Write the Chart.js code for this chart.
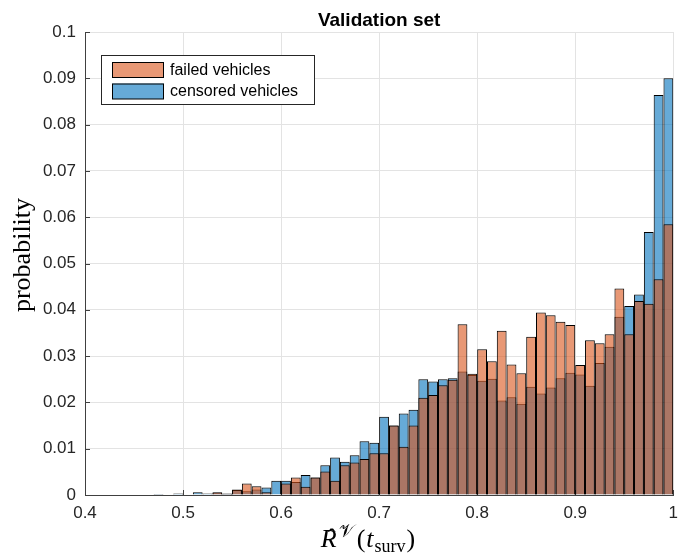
<!DOCTYPE html>
<html>
<head>
<meta charset="utf-8">
<title>Validation set</title>
<script src="https://cdn.jsdelivr.net/npm/chart.js@4.4.1/dist/chart.umd.min.js"></script>
<style>
  html, body { margin: 0; padding: 0; background: #fff; }
  #wrap { position: relative; width: 686px; height: 555px; }
</style>
</head>
<body>
<div id="wrap"><canvas id="hist" width="686" height="555"></canvas></div>
<script>
// lower edge of each histogram bin (width 0.01)
const binEdges = [
  0.40, 0.41, 0.42, 0.43, 0.44, 0.45, 0.46, 0.47, 0.48, 0.49,
  0.50, 0.51, 0.52, 0.53, 0.54, 0.55, 0.56, 0.57, 0.58, 0.59,
  0.60, 0.61, 0.62, 0.63, 0.64, 0.65, 0.66, 0.67, 0.68, 0.69,
  0.70, 0.71, 0.72, 0.73, 0.74, 0.75, 0.76, 0.77, 0.78, 0.79,
  0.80, 0.81, 0.82, 0.83, 0.84, 0.85, 0.86, 0.87, 0.88, 0.89,
  0.90, 0.91, 0.92, 0.93, 0.94, 0.95, 0.96, 0.97, 0.98, 0.99
];
const binWidth = 0.01;

const failedProb = [
  0, 0, 0, 0, 0, 0, 0, 0, 0, 0,
  0, 0, 0, 0.0006, 0.0002, 0.0012, 0.0025, 0.0019, 0.0006, 0,
  0.0025, 0.0038, 0.0018, 0.0038, 0.0051, 0.0031, 0.0064, 0.0070, 0.0078, 0.0090,
  0.0090, 0.0150, 0.0104, 0.0150, 0.0210, 0.0216, 0.0237, 0.0249, 0.0369, 0.0262,
  0.0315, 0.0289, 0.0355, 0.0282, 0.0263, 0.0342, 0.0394, 0.0388, 0.0374, 0.0367,
  0.0281, 0.0334, 0.0328, 0.0347, 0.0446, 0.0347, 0.0419, 0.0413, 0.0466, 0.0585
];

const censoredProb = [
  0, 0, 0, 0, 0, 0, 0, 0.0002, 0, 0.0003,
  0, 0.0006, 0.0003, 0.0005, 0.0003, 0.0011, 0.0008, 0.0012, 0.0016, 0.0031,
  0.0031, 0.0028, 0.0043, 0.0038, 0.0064, 0.0081, 0.0072, 0.0086, 0.0116, 0.0113,
  0.0169, 0.0150, 0.0176, 0.0184, 0.0250, 0.0245, 0.0250, 0.0252, 0.0267, 0.0259,
  0.0247, 0.0251, 0.0204, 0.0211, 0.0197, 0.0234, 0.0219, 0.0232, 0.0252, 0.0264,
  0.0260, 0.0236, 0.0285, 0.0320, 0.0385, 0.0408, 0.0433, 0.0568, 0.0864, 0.0900
];

const xTickLabels = ['0.4', '0.5', '0.6', '0.7', '0.8', '0.9', '1'];
const yTickLabels = ['0', '0.01', '0.02', '0.03', '0.04', '0.05', '0.06', '0.07', '0.08', '0.09', '0.1'];

const seriesNames = ['failed vehicles', 'censored vehicles'];

const AXIS_FONT = '"Liberation Sans", Arial, Helvetica, sans-serif';
const MATH_FONT = '"Liberation Serif", "DejaVu Serif", "Times New Roman", serif';

function toPoints(values) {
  return values.map((v, i) => ({ x: binEdges[i] + binWidth / 2, y: v }));
}

// legend box, title, axis labels and inward ticks
const decorations = {
  id: 'decorations',
  beforeDatasetsDraw(chart) {
    const { ctx, chartArea: a, scales: { x, y } } = chart;
    ctx.save();
    ctx.strokeStyle = '#404040';
    ctx.lineWidth = 1;
    ctx.beginPath();
    y.ticks.forEach(t => {
      const py = Math.round(y.getPixelForValue(t.value)) + 0.5;
      ctx.moveTo(a.left, py);
      ctx.lineTo(a.left + 5, py);
    });
    x.ticks.forEach(t => {
      const px = Math.round(x.getPixelForValue(t.value)) + 0.5;
      ctx.moveTo(px, a.bottom);
      ctx.lineTo(px, a.bottom - 5);
    });
    ctx.stroke();
    ctx.restore();
  },
  afterDraw(chart) {
    const { ctx, chartArea: a } = chart;
    ctx.save();

    // title
    ctx.fillStyle = '#000';
    ctx.font = 'bold 19px ' + AXIS_FONT;
    ctx.textAlign = 'center';
    ctx.textBaseline = 'alphabetic';
    ctx.fillText('Validation set', (a.left + a.right) / 2, 26);

    // legend
    const lx = 101.5, ly = 55.5, lw = 213, lh = 49;
    ctx.fillStyle = '#fff';
    ctx.fillRect(lx, ly, lw, lh);
    ctx.strokeStyle = '#262626';
    ctx.lineWidth = 1;
    ctx.strokeRect(lx, ly, lw, lh);
    ctx.font = '16px ' + AXIS_FONT;
    ctx.textAlign = 'left';
    ctx.textBaseline = 'middle';
    chart.data.datasets.forEach((ds, i) => {
      const sy = 62 + i * 21.5;
      ctx.fillStyle = '#fff';
      ctx.fillRect(112, sy, 52, 15.5);
      ctx.fillStyle = ds.backgroundColor;
      ctx.fillRect(112, sy, 52, 15.5);
      ctx.strokeStyle = '#000';
      ctx.strokeRect(112.5, sy + 0.5, 51, 15);
      ctx.fillStyle = '#000';
      ctx.fillText(ds.label, 170, sy + 8.5);
    });

    // y label
    ctx.save();
    ctx.translate(30, 255);
    ctx.rotate(-Math.PI / 2);
    ctx.font = '26px ' + MATH_FONT;
    ctx.textAlign = 'center';
    ctx.textBaseline = 'alphabetic';
    ctx.fillText('probability', 0, 0);
    ctx.restore();

    // x label: R-hat with calligraphic V superscript, of t_surv
    const base = 547;
    const parts = [
      { t: 'R', f: 'italic 26px ' + MATH_FONT, dy: 0 },
      { t: '\u{1D4B1}', f: '18px "DejaVu Sans", "DejaVu Serif", ' + MATH_FONT, dy: -10, gap: 2 },
      { t: '(', f: '26px ' + MATH_FONT, dy: 0, gap: 3 },
      { t: 't', f: 'italic 26px ' + MATH_FONT, dy: 0, gap: 1 },
      { t: 'surv', f: '18px ' + MATH_FONT, dy: 5, gap: 1 },
      { t: ')', f: '26px ' + MATH_FONT, dy: 0, gap: 1 }
    ];
    let total = 0;
    parts.forEach(p => {
      ctx.font = p.f;
      p.w = ctx.measureText(p.t).width;
      total += p.w + (p.gap || 0);
    });
    let cx = 368 - total / 2;
    ctx.textAlign = 'left';
    ctx.textBaseline = 'alphabetic';
    ctx.fillStyle = '#000';
    parts.forEach((p, i) => {
      cx += p.gap || 0;
      ctx.font = p.f;
      ctx.fillText(p.t, cx, base + p.dy);
      if (i === 0) {
        ctx.font = '24px ' + MATH_FONT;
        ctx.textAlign = 'center';
        ctx.fillText('\u02C6', cx + p.w / 2 + 3, base - 2);
        ctx.textAlign = 'left';
      }
      cx += p.w;
    });

    ctx.restore();
  }
};

new Chart(document.getElementById('hist'), {
  type: 'bar',
  data: {
    datasets: [
      {
        label: seriesNames[0],
        data: toPoints(failedProb),
        backgroundColor: 'rgba(217, 83, 25, 0.6)',
        borderColor: '#000',
        borderWidth: 1
      },
      {
        label: seriesNames[1],
        data: toPoints(censoredProb),
        backgroundColor: 'rgba(0, 114, 189, 0.6)',
        borderColor: '#000',
        borderWidth: 1
      }
    ]
  },
  options: {
    responsive: false,
    animation: false,
    layout: { padding: { top: 32, right: 12, left: 0, bottom: 0 } },
    datasets: {
      bar: {
        grouped: false,
        barPercentage: 1,
        categoryPercentage: 1,
        inflateAmount: 0
      }
    },
    plugins: {
      legend: { display: false },
      tooltip: { enabled: false },
      title: { display: false }
    },
    scales: {
      x: {
        type: 'linear',
        min: 0.4,
        max: 1,
        offset: false,
        afterFit: s => { s.height = 60; },
        ticks: {
          stepSize: 0.1,
          padding: 8,
          color: '#262626',
          font: { family: AXIS_FONT, size: 17 },
          maxRotation: 0,
          callback: v => xTickLabels[Math.round((v - 0.4) / 0.1)]
        },
        grid: { color: '#e3e3e3', drawTicks: false, offset: false },
        border: { color: '#404040', width: 1 }
      },
      y: {
        min: 0,
        max: 0.1,
        afterFit: s => { s.width = 85; },
        ticks: {
          stepSize: 0.01,
          padding: 9,
          color: '#262626',
          font: { family: AXIS_FONT, size: 17 },
          callback: v => yTickLabels[Math.round(v / 0.01)]
        },
        grid: { color: '#e3e3e3', drawTicks: false },
        border: { color: '#404040', width: 1 }
      }
    }
  },
  plugins: [decorations]
});
</script>
</body>
</html>
